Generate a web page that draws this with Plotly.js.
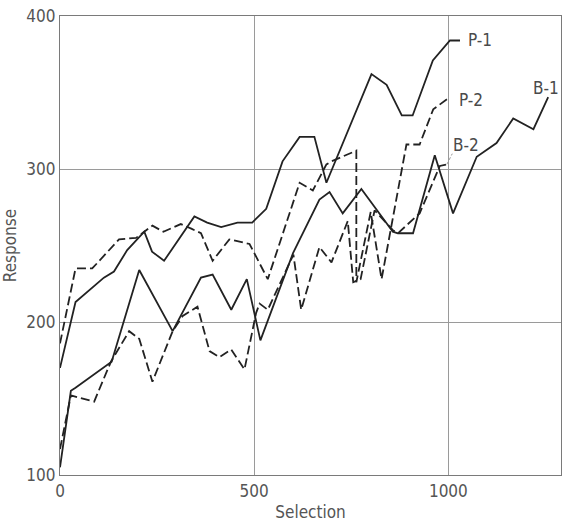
<!DOCTYPE html>
<html>
<head>
<meta charset="utf-8">
<script src="https://cdn.plot.ly/plotly-3.0.1.min.js"></script>
<style>
  html, body { margin: 0; padding: 0; background: #ffffff; }
  #chart { width: 563px; height: 523px; }
</style>
</head>
<body>
<div id="chart"></div>
<script>
// Series P-1 (solid, upper)
const p1X = [0, 40, 113, 139, 173, 217, 237, 268, 346, 379, 415, 457, 495, 531, 573, 617, 655, 686, 802, 841, 880, 908, 960, 1004, 1030];
const p1Y = [170, 213, 229, 233, 247, 259, 246, 240, 269, 265, 262, 265, 265, 274, 305, 321, 321, 291, 362, 355, 335, 335, 371, 384, 384];

// Series P-2 (dashed, upper)
const p2X = [0, 40, 83, 152, 196, 238, 266, 311, 338, 363, 393, 436, 488, 535, 617, 651, 686, 699, 763, 763, 800, 828, 892, 926, 961, 996, 1004];
const p2Y = [186, 235, 235, 254, 255, 263, 259, 264, 261, 258, 240, 254, 251, 228, 291, 286, 303, 305, 312, 226, 272, 228, 316, 316, 339, 346, 347];

// Series B-1 (solid, lower)
const b1X = [0, 28, 40, 133, 204, 290, 363, 393, 441, 481, 516, 600, 668, 694, 728, 776, 857, 870, 909, 965, 1012, 1073, 1124, 1167, 1219, 1257];
const b1Y = [105, 155, 157, 174, 234, 194, 229, 231, 208, 228, 188, 245, 280, 285, 271, 287, 259, 258, 258, 309, 271, 308, 317, 333, 326, 347];

// Series B-2 (dashed, lower)
const b2X = [0, 28, 88, 131, 178, 204, 238, 290, 316, 354, 385, 410, 441, 475, 505, 514, 535, 601, 621, 668, 699, 741, 755, 774, 810, 857, 870, 926, 978, 996];
const b2Y = [117, 152, 148, 174, 194, 189, 161, 194, 204, 210, 181, 177, 182, 169, 206, 212, 208, 244, 208, 249, 239, 266, 226, 228, 273, 260, 258, 271, 302, 303];

// Labels
const seriesNames = ["P-1", "P-2", "B-1", "B-2"];
const xTicks = [0, 500, 1000];
const yTicks = [100, 200, 300, 400];

const FONT = "'Liberation Sans Narrow', 'DejaVu Sans Condensed', sans-serif";
const LINE = "#222222";
const solid = {color: LINE, width: 1.8};
const dashed = {color: LINE, width: 1.8, dash: "9px,4px"};

const traces = [
  {x: p1X, y: p1Y, name: seriesNames[0], mode: "lines", line: solid},
  {x: p2X, y: p2Y, name: seriesNames[1], mode: "lines", line: dashed},
  {x: b1X, y: b1Y, name: seriesNames[2], mode: "lines", line: solid},
  {x: b2X, y: b2Y, name: seriesNames[3], mode: "lines", line: dashed}
];

const annText = {family: FONT, size: 17, color: "#4a4a4a"};
const layout = {
  width: 563, height: 523,
  margin: {l: 60, r: 2, t: 16, b: 48},
  paper_bgcolor: "#ffffff", plot_bgcolor: "#ffffff",
  showlegend: false,
  font: {family: FONT, size: 17, color: "#555555"},
  xaxis: {
    range: [0, 1290], tickvals: xTicks, ticktext: xTicks.map(String),
    showgrid: true, gridcolor: "#9a9a9a", gridwidth: 1,
    zeroline: false, showline: true, mirror: true, linecolor: "#7a7a7a", linewidth: 1.2,
    ticks: "", ticklen: 0,
    tickfont: {family: FONT, size: 17, color: "#555555"},
    title: {text: "Selection", font: {family: FONT, size: 17, color: "#555555"}, standoff: 6}
  },
  yaxis: {
    range: [100, 400], tickvals: yTicks, ticktext: yTicks.map(String),
    showgrid: true, gridcolor: "#9a9a9a", gridwidth: 1,
    zeroline: false, showline: true, mirror: true, linecolor: "#7a7a7a", linewidth: 1.2,
    ticks: "", ticklen: 0,
    tickfont: {family: FONT, size: 17, color: "#555555"},
    title: {text: "Response", font: {family: FONT, size: 17, color: "#555555"}, standoff: 5}
  },
  annotations: [
    {x: 1045, y: 384, xref: "x", yref: "y", text: seriesNames[0], showarrow: false, xanchor: "left", yanchor: "middle", font: annText},
    {x: 1022, y: 345, xref: "x", yref: "y", text: seriesNames[1], showarrow: false, xanchor: "left", yanchor: "middle", font: annText},
    {x: 1212, y: 353, xref: "x", yref: "y", text: seriesNames[2], showarrow: false, xanchor: "left", yanchor: "middle", font: annText},
    {x: 1007, y: 316, xref: "x", yref: "y", text: seriesNames[3], showarrow: false, xanchor: "left", yanchor: "middle", font: annText}
  ],
  shapes: [
    {type: "line", xref: "x", yref: "y", x0: 996, y0: 303, x1: 1010, y1: 310,
     line: {color: "#9a9a9a", width: 1, dash: "3px,2px"}}
  ]
};

Plotly.newPlot("chart", traces, layout, {displayModeBar: false, staticPlot: true});
</script>
</body>
</html>
